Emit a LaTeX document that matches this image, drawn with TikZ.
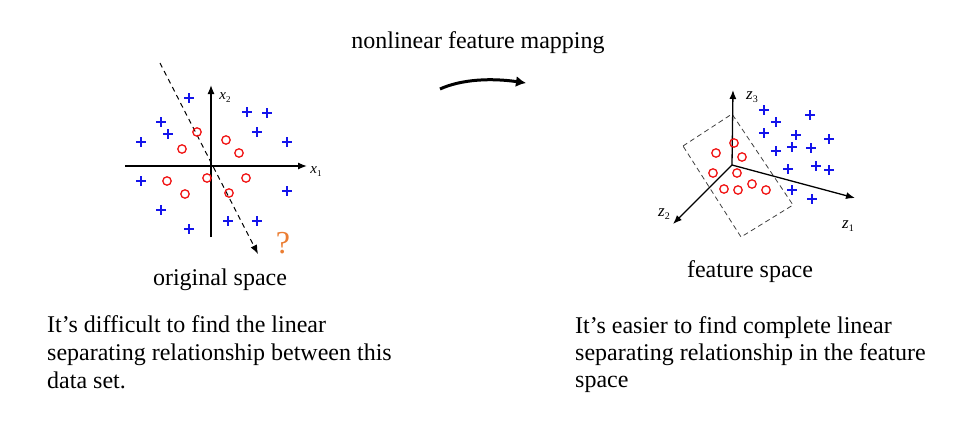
\documentclass[tikz,border=0pt]{standalone}
\usepackage{fontspec}
\setmainfont{Liberation Serif}
\usetikzlibrary{arrows.meta}
\definecolor{plusblue}{RGB}{20,20,235}
\definecolor{circred}{RGB}{240,20,20}
\definecolor{qorange}{RGB}{235,125,50}
\tikzset{
  txt/.style={font=\fontsize{24}{28}\selectfont, inner sep=0pt, anchor=base west},
  ctxt/.style={font=\fontsize{24}{28}\selectfont, inner sep=0pt, anchor=base},
  axlab/.style={font=\fontsize{15}{15}\selectfont, inner sep=0pt},
  zlab/.style={font=\fontsize{17}{17}\selectfont, inner sep=0pt},
  axis/.style={line width=1.3pt, -{Latex[length=9pt,width=7pt]}},
  bplus/.style={draw=plusblue, line width=1.6pt},
  rcirc/.style={draw=circred, line width=1.3pt},
  sepline/.style={line width=1pt, dash pattern=on 5pt off 4pt, -{Latex[length=9pt,width=7pt]}},
  plane/.style={draw=black!75, line width=0.8pt, dash pattern=on 5pt off 3.5pt},
}
\newcommand{\ppl}[2]{\draw[bplus] (#1-5,#2) -- (#1+5,#2) (#1,#2-5) -- (#1,#2+5);}
\begin{document}
\begin{tikzpicture}[x=1pt,y=-1pt]
\useasboundingbox (0,0) rectangle (961,421);
% ---------- left: original space ----------
\coordinate (o1) at (211,166);
\coordinate (x1end) at (307,166);
\coordinate (x1start) at (125,166);
\coordinate (x2end) at (211,85);
\coordinate (x2start) at (211,237);
\draw[axis] (x1start) -- (x1end);
\draw[axis] (x2start) -- (x2end);
\node[axlab] (x1lab) at (316,172) {\textit{x}\raisebox{-3pt}{\fontsize{9}{9}\selectfont 1}};
\node[axlab] (x2lab) at (225,98) {\textit{x}\raisebox{-3pt}{\fontsize{9}{9}\selectfont 2}};
\coordinate (ds) at (160,63);
\coordinate (de) at (258,254);
\draw[sepline] (ds) -- (de);
\node[font=\fontsize{32}{32}\selectfont, text=qorange, inner sep=0pt] (q) at (283,243) {?};
\foreach \x/\y in {189/98,247/112,267/113,161/122,168/134,257/132,141/142,287/142,141/181,287/191,161/210,228/221,257/221,189/229}
  {\ppl{\x}{\y}}
\foreach \x/\y in {197/132,226/140,182/149,239/153,167/181,207/178,246/178,185/194,229/193}
  {\draw[rcirc] (\x,\y) circle (4.2);}
\node[ctxt] (orig) at (220,285) {original space};
\node[txt] (l1) at (47,332) {It’s difficult to find the linear};
\node[txt] (l2) at (47,360) {separating relationship between this};
\node[txt] (l3) at (47,388) {data set.};
% ---------- middle ----------
\node[ctxt] (map) at (478,48) {nonlinear feature mapping};
\coordinate (ma) at (440,89);
\coordinate (mb) at (526,83);
\draw[line width=3pt, -{Latex[length=10pt,width=11pt]}] (ma) .. controls (462,79) and (492,78) .. (mb);
% ---------- right: feature space ----------
\coordinate (o2) at (732,165);
\coordinate (z3end) at (733,90);
\coordinate (z1end) at (855,198);
\coordinate (z2end) at (673,224);
\draw[plane] (683,146) -- (732,114) -- (793,205) -- (741,237) -- cycle;
\draw[axis] (o2) -- (z3end);
\draw[axis] (o2) -- (z1end);
\draw[axis] (o2) -- (z2end);
\node[zlab] (z3lab) at (752,97) {\textit{z}\raisebox{-3pt}{\fontsize{10}{10}\selectfont 3}};
\node[zlab] (z1lab) at (848,226) {\textit{z}\raisebox{-3pt}{\fontsize{10}{10}\selectfont 1}};
\node[zlab] (z2lab) at (664,214) {\textit{z}\raisebox{-3pt}{\fontsize{10}{10}\selectfont 2}};
\foreach \x/\y in {764/110,810/115,776/122,764/133,796/135,829/139,792/147,811/148,776/151,816/166,829/170,788/169,792/190,812/199}
  {\ppl{\x}{\y}}
\foreach \x/\y in {734/143,716/153,742/157,713/173,737/173,752/184,724/189,738/190,766/190}
  {\draw[rcirc] (\x,\y) circle (4.2);}
\node[ctxt] (feat) at (750,277) {feature space};
\node[txt] (r1) at (575,333) {It’s easier to find complete linear};
\node[txt] (r2) at (575,360) {separating relationship in the feature};
\node[txt] (r3) at (575,387) {space};
\end{tikzpicture}
\end{document}
